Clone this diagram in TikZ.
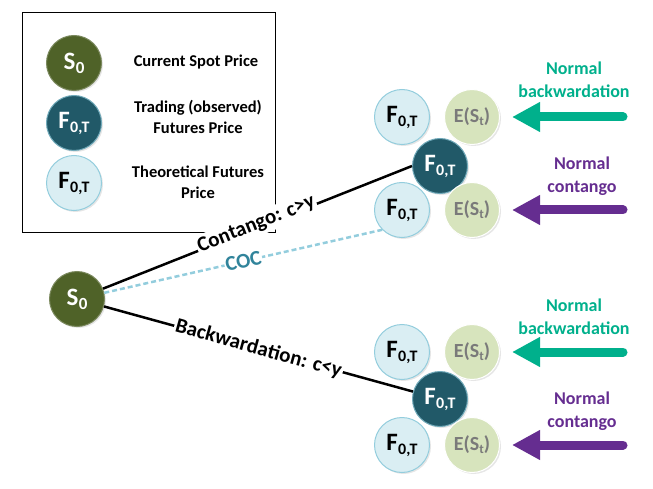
\documentclass[tikz,border=0pt]{standalone}
\usepackage{fontspec}
\setmainfont{Carlito}
\usetikzlibrary{arrows.meta,shadows}

\definecolor{spotgreen}{HTML}{4F6228}
\definecolor{tradeblue}{HTML}{215968}
\definecolor{theofill}{HTML}{DAEEF3}
\definecolor{theoedge}{HTML}{93CDDD}
\definecolor{expfill}{HTML}{D7E4BD}
\definecolor{expgray}{HTML}{7A7A7A}
\definecolor{backgreen}{HTML}{00B08C}
\definecolor{contpurple}{HTML}{652D90}
\definecolor{cocblue}{HTML}{31849B}

\newcommand{\Fzt}{{\fontsize{25}{25}\selectfont\bfseries F\kern0.3pt\raisebox{-4pt}{\fontsize{16}{16}\selectfont 0,T}}}
\newcommand{\Szero}{{\fontsize{25}{25}\selectfont\bfseries S\kern0.3pt\raisebox{-4pt}{\fontsize{17}{17}\selectfont 0}}}
\newcommand{\ESt}{{\fontsize{20}{20}\selectfont\bfseries E(S\raisebox{-3pt}{\fontsize{13}{13}\selectfont t})}}

\tikzset{
  ball/.style={circle, minimum size=55pt, inner sep=0pt, line width=1pt,
    drop shadow={shadow xshift=1.5pt, shadow yshift=-1.5pt, opacity=0.2}},
  spot/.style={ball, fill=spotgreen, draw=spotgreen!75!white, text=white},
  trade/.style={ball, fill=tradeblue, draw=theoedge!70!tradeblue, text=white},
  theo/.style={ball, fill=theofill, draw=theoedge, text=black},
  expect/.style={ball, fill=expfill, draw=white, text=expgray},
  legtext/.style={font=\fontsize{16.5}{21}\selectfont\bfseries, align=center},
  tie/.style={line width=2.5pt, black},
  tielabel/.style={sloped, fill=white, inner xsep=1.5pt, inner ysep=3pt,
    font=\fontsize{21}{21}\selectfont\bfseries},
  cocline/.style={line width=2.5pt, theoedge, dash pattern=on 5pt off 3pt},
  normtext/.style={font=\fontsize{18}{23}\selectfont\bfseries, align=center},
  push/.style={line width=9pt, line cap=round, shorten >=12pt,
    -{Triangle[length=28pt, width=28pt]}},
}

\begin{document}
\begin{tikzpicture}[x=1pt, y=-1pt]
    \useasboundingbox (0,0) rectangle (653,489);

    % Legend
    \draw[line width=0.8pt] (22,12) rectangle (275,232);
    \node[spot] (legS) at (74,63) {\Szero};
    \node[trade] (legF) at (74,123) {\Fzt};
    \node[theo] (legT) at (74,183) {\Fzt};
    \node[legtext] (legSt) at (196,62) {Current Spot Price};
    \node[legtext] (legFt) at (198,117) {Trading (observed)\\Futures Price};
    \node[legtext] (legTt) at (198,182) {Theoretical Futures\\Price};

    % Spot price
    \node[spot] (s0) at (77,299) {\Szero};

    % Upper group (contango)
    \node[theo] (upA) at (402,117) {\Fzt};
    \node[expect] (upAe) at (472,117) {\ESt};
    \node[trade] (upF) at (440,166) {\Fzt};
    \node[theo] (upB) at (402,210) {\Fzt};
    \node[expect] (upBe) at (472,210) {\ESt};

    % Lower group (backwardation)
    \node[theo] (loA) at (402,352) {\Fzt};
    \node[expect] (loAe) at (472,352) {\ESt};
    \node[trade] (loF) at (440,399) {\Fzt};
    \node[theo] (loB) at (402,445) {\Fzt};
    \node[expect] (loBe) at (472,445) {\ESt};

    % Connectors from spot
    \draw[cocline] (s0) -- node[sloped, fill=white, inner sep=1pt, text=cocblue,
        font=\fontsize{21}{21}\selectfont\bfseries, pos=0.5] (coc) {COC} (upB.south west);
    \draw[tie] (s0) -- node[tielabel, pos=0.5, yshift=3pt] (cont) {Contango: c>y} (upF.west);
    \draw[tie] (s0) -- node[tielabel, pos=0.5] (back) {Backwardation: c<y} (loF);

    % Normal backwardation / contango
    \node[normtext, text=backgreen] (nb1) at (574,80) {Normal\\backwardation};
    \node[normtext, text=contpurple] (nc1) at (582,176) {Normal\\contango};
    \node[normtext, text=backgreen] (nb2) at (574,317) {Normal\\backwardation};
    \node[normtext, text=contpurple] (nc2) at (582,411) {Normal\\contango};

    \coordinate (p1) at (623,117);
    \coordinate (p2) at (623,210);
    \coordinate (p3) at (623,352);
    \coordinate (p4) at (623,445);
    \draw[push, backgreen] (p1) -- (upAe);
    \draw[push, contpurple] (p2) -- (upBe);
    \draw[push, backgreen] (p3) -- (loAe);
    \draw[push, contpurple] (p4) -- (loBe);
\end{tikzpicture}
\end{document}
